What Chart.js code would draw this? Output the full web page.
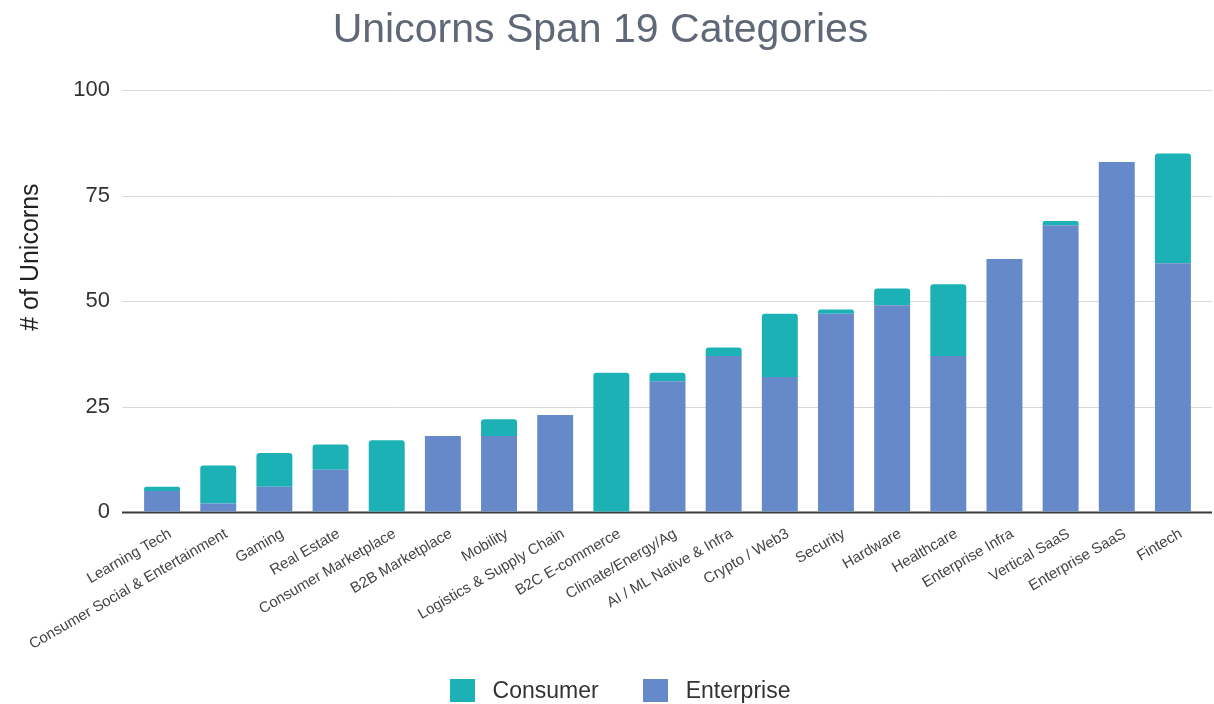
<!DOCTYPE html>
<html>
<head>
<meta charset="utf-8">
<title>Unicorns Span 19 Categories</title>
<script src="https://cdn.jsdelivr.net/npm/chart.js@4"></script>
<style>
  html, body { margin: 0; padding: 0; background: #fff; overflow: hidden; }
  #wrap { position: relative; width: 1214px; height: 704px; }
  #legend {
    position: absolute; left: 0; right: 0; top: 677px;
    display: flex; justify-content: center; padding-left: 26px;
    font-family: 'Liberation Sans', Arial, sans-serif; font-size: 23px; color: #333;
  }
  #legend .item { display: flex; align-items: center; margin: 0 22px; }
  #legend .swatch { width: 25px; height: 23px; margin-right: 18px; }
</style>
</head>
<body>
<div id="wrap">
  <canvas id="unicornChart"></canvas>
  <div id="legend"></div>
</div>
<script>
// category names, left to right
const categories = [
    'Learning Tech', 'Consumer Social & Entertainment', 'Gaming', 'Real Estate',
    'Consumer Marketplace', 'B2B Marketplace', 'Mobility', 'Logistics & Supply Chain',
    'B2C E-commerce', 'Climate/Energy/Ag', 'AI / ML Native & Infra', 'Crypto / Web3',
    'Security', 'Hardware', 'Healthcare', 'Enterprise Infra', 'Vertical SaaS',
    'Enterprise SaaS', 'Fintech'
];

// unicorn counts per category
const enterprise = [5, 2, 6, 10, 0, 18, 18, 23, 0, 31, 37, 32, 47, 49, 37, 60, 68, 83, 59];
const consumer = [1, 9, 8, 6, 17, 0, 4, 0, 33, 2, 2, 15, 1, 4, 17, 0, 1, 0, 26];

const yTicks = [0, 25, 50, 75, 100];

const FONT = "'Liberation Sans', Arial, sans-serif";

// horizontal grid lines, a bit wider than the bar area, under the bars
const gridLines = {
    id: 'gridLines',
    beforeDatasetsDraw(chart) {
        const { ctx, chartArea, scales } = chart;
        const x0 = chartArea.left - 12;
        const x1 = chartArea.right + 11;
        ctx.save();
        yTicks.forEach(v => {
            const y = Math.round(scales.y.getPixelForValue(v)) + 0.5;
            ctx.beginPath();
            ctx.strokeStyle = v === 0 ? '#3a3a3a' : '#d9d9d9';
            ctx.lineWidth = v === 0 ? 2 : 1;
            ctx.moveTo(x0, y);
            ctx.lineTo(x1, y);
            ctx.stroke();
        });
        ctx.restore();
    }
};

// y axis title, sitting a little above the middle of the axis
const yTitle = {
    id: 'yTitle',
    afterDraw(chart) {
        const { ctx, chartArea } = chart;
        const cy = (chartArea.top + chartArea.bottom) / 2 - 44;
        ctx.save();
        ctx.translate(31, cy);
        ctx.rotate(-Math.PI / 2);
        ctx.fillStyle = '#222';
        ctx.font = `25px ${FONT}`;
        ctx.textAlign = 'center';
        ctx.textBaseline = 'middle';
        ctx.fillText('# of Unicorns', 0, 0);
        ctx.restore();
    }
};

const chart = new Chart(document.getElementById('unicornChart'), {
    type: 'bar',
    data: {
        labels: categories,
        datasets: [
            {
                label: 'Enterprise',
                data: enterprise,
                backgroundColor: '#6589c9',
                barPercentage: 0.64,
                categoryPercentage: 1
            },
            {
                label: 'Consumer',
                data: consumer,
                backgroundColor: '#1cb2b5',
                borderRadius: { topLeft: 3, topRight: 3 },
                borderSkipped: 'bottom',
                barPercentage: 0.64,
                categoryPercentage: 1
            }
        ]
    },
    options: {
        responsive: true,
        maintainAspectRatio: false,
        animation: false,
        layout: { padding: { left: 0, right: 13, top: 0, bottom: 0 } },
        plugins: {
            title: {
                display: true,
                text: 'Unicorns Span 19 Categories',
                color: '#5f6876',
                font: { family: FONT, size: 41, weight: 'normal' },
                padding: { top: 6, bottom: 35 }
            },
            legend: { display: false },
            tooltip: { enabled: false }
        },
        scales: {
            x: {
                stacked: true,
                grid: { display: false },
                border: { display: false },
                ticks: {
                    color: '#444',
                    font: { family: FONT, size: 15 },
                    minRotation: 30,
                    maxRotation: 30,
                    autoSkip: false,
                    padding: 5,
                    labelOffset: 8
                },
                afterFit: scale => { scale.height = 192; }
            },
            y: {
                stacked: true,
                min: 0,
                max: 100,
                afterBuildTicks: scale => {
                    scale.ticks = yTicks.map(v => ({ value: v }));
                },
                grid: { drawOnChartArea: false, drawTicks: false },
                border: { display: false },
                ticks: {
                    color: '#333',
                    font: { family: FONT, size: 22 },
                    padding: 24
                },
                afterFit: scale => { scale.width = 134; }
            }
        }
    },
    plugins: [gridLines, yTitle]
});

// legend: Consumer listed first, as it sits on top of each stack
const legendEl = document.getElementById('legend');
chart.data.datasets.slice().reverse().forEach(ds => {
    const item = document.createElement('div');
    item.className = 'item';
    const swatch = document.createElement('span');
    swatch.className = 'swatch';
    swatch.style.background = ds.backgroundColor;
    const label = document.createElement('span');
    label.textContent = ds.label;
    item.appendChild(swatch);
    item.appendChild(label);
    legendEl.appendChild(item);
});
</script>
</body>
</html>
